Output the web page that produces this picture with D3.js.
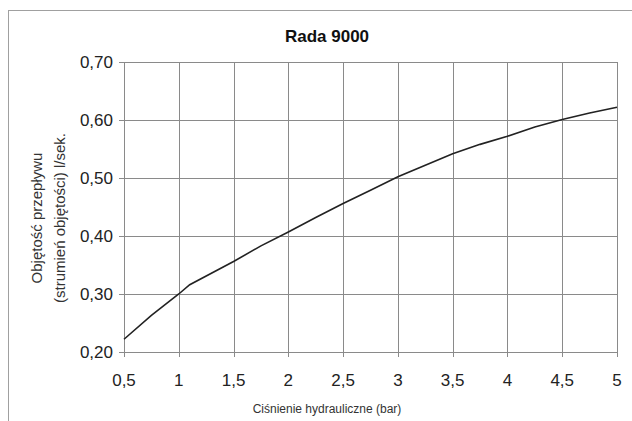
<!DOCTYPE html>
<html>
<head>
<meta charset="utf-8">
<script src="https://cdn.jsdelivr.net/npm/d3@7"></script>
<style>
  body { margin: 0; background: #fff; }
  svg { display: block; font-family: "Liberation Sans", Arial, sans-serif; }
</style>
</head>
<body>
<svg id="chart" width="632" height="421"></svg>
<script>
// pressure (bar) and flow (l/sek.)
var pressure = [0.5, 0.75, 1, 1.1, 1.5, 1.75, 2, 2.25, 2.5, 2.75, 3, 3.25, 3.5, 3.75, 4, 4.25, 4.5, 4.75, 5];
var flow     = [0.222, 0.263, 0.300, 0.316, 0.356, 0.383, 0.407, 0.432, 0.456, 0.479, 0.502, 0.522, 0.542, 0.558, 0.572, 0.588, 0.601, 0.612, 0.622];
var xTicks = [0.5, 1, 1.5, 2, 2.5, 3, 3.5, 4, 4.5, 5];
var yTicks = [0.2, 0.3, 0.4, 0.5, 0.6, 0.7];
var title = "Rada 9000";
var xTitle = "Ciśnienie hydrauliczne (bar)";
var yTitle = ["Objętość przepływu", "(strumień objętości) l/sek."];

var pl = d3.formatLocale({decimal: ",", thousands: " ", grouping: [3], currency: ["", ""]});
var fx = function(d) { return Number.isInteger(d) ? String(d) : pl.format(".1f")(d); };
var fy = pl.format(".2f");

var svg = d3.select("#chart");

// chart frame (runs off the right and bottom)
svg.append("rect")
  .attr("x", 8.5).attr("y", 10.5)
  .attr("width", 660).attr("height", 440)
  .style("fill", "none")
  .style("stroke", "#a0a0a0");

var x = d3.scaleLinear().domain([0.5, 5]).range([124, 617]);
var y = d3.scaleLinear().domain([0.2, 0.7]).range([352, 62]);

// grid
var grid = svg.append("g").style("stroke", "#8a8a8a").style("stroke-width", 1);
grid.selectAll(".gx").data(xTicks).enter().append("line")
  .attr("x1", function(d) { return Math.round(x(d)) + 0.5; })
  .attr("x2", function(d) { return Math.round(x(d)) + 0.5; })
  .attr("y1", y(0.7)).attr("y2", y(0.2) + 5);
grid.selectAll(".gy").data(yTicks).enter().append("line")
  .attr("y1", function(d) { return Math.round(y(d)) + 0.5; })
  .attr("y2", function(d) { return Math.round(y(d)) + 0.5; })
  .attr("x1", x(0.5) - 5).attr("x2", x(5));

// tick labels
svg.append("g").selectAll("text").data(yTicks).enter().append("text")
  .attr("x", 113)
  .attr("y", function(d) { return y(d); })
  .attr("dy", "0.36em")
  .attr("text-anchor", "end")
  .style("font-size", "17px")
  .style("fill", "#222")
  .text(fy);

svg.append("g").selectAll("text").data(xTicks).enter().append("text")
  .attr("x", function(d) { return x(d); })
  .attr("y", 386)
  .attr("text-anchor", "middle")
  .style("font-size", "17px")
  .style("fill", "#222")
  .text(fx);

// the curve
var line = d3.line()
  .x(function(d) { return x(d[0]); })
  .y(function(d) { return y(d[1]); });

svg.append("path")
  .datum(d3.zip(pressure, flow))
  .attr("d", line)
  .style("fill", "none")
  .style("stroke", "#222")
  .style("stroke-width", 1.6);

// titles
svg.append("text")
  .attr("x", 327).attr("y", 42)
  .attr("text-anchor", "middle")
  .style("font-size", "17px")
  .style("font-weight", "bold")
  .style("fill", "#111")
  .text(title);

svg.append("text")
  .attr("x", 327).attr("y", 413)
  .attr("text-anchor", "middle")
  .style("font-size", "12px")
  .style("fill", "#333")
  .text(xTitle);

svg.append("g").selectAll("text").data(yTitle).enter().append("text")
  .attr("transform", function(d, i) { return "translate(" + (42 + i * 23) + ",218) rotate(-90)"; })
  .attr("text-anchor", "middle")
  .style("font-size", "15px")
  .style("fill", "#333")
  .text(function(d) { return d; });
</script>
</body>
</html>
